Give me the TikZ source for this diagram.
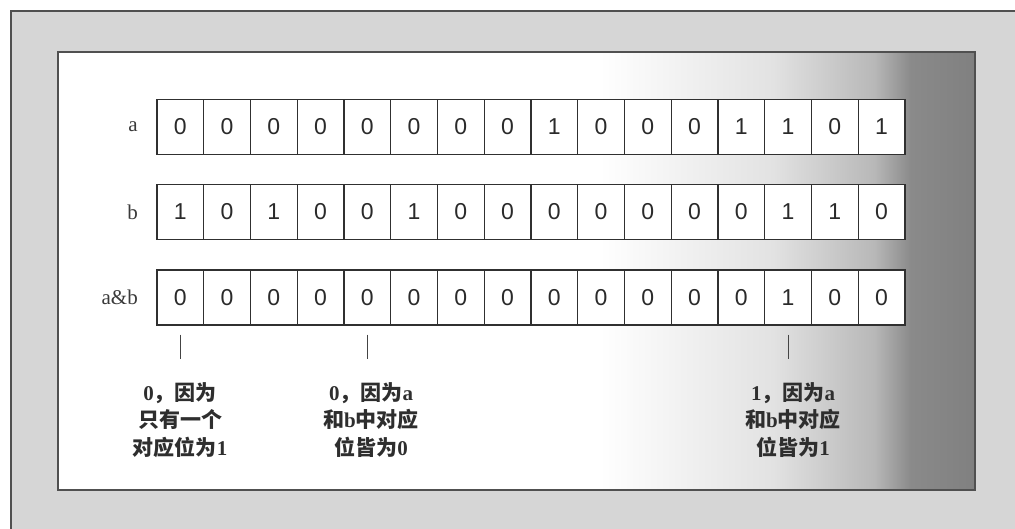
\documentclass[tikz,border=0pt]{standalone}
\usepackage{fontspec}
\setmainfont{Liberation Serif}
\newfontfamily\cjk{Noto Sans CJK SC}
\newfontfamily\digitfont{Liberation Sans}
\definecolor{outerbg}{HTML}{D6D6D6}
\definecolor{framecol}{HTML}{505050}
\definecolor{cellline}{HTML}{303030}
\definecolor{digit}{HTML}{2A2A2A}
\definecolor{labgray}{HTML}{3A3A3A}
\definecolor{notegray}{HTML}{2E2E2E}
\definecolor{tickgray}{HTML}{444444}
\definecolor{shA}{HTML}{FFFFFF}
\definecolor{shB}{HTML}{E2E2E2}
\definecolor{shC}{HTML}{B8B8B8}
\definecolor{shD}{HTML}{8A8A8A}
\definecolor{shE}{HTML}{808080}
\pgfdeclarehorizontalshading{panelshade}{100bp}{color(0bp)=(shA); color(54.5bp)=(shA); color(64bp)=(shB); color(69.5bp)=(shC); color(71.5bp)=(shD); color(75bp)=(shE); color(100bp)=(shE)}
\newcommand\latn[1]{{\rmfamily #1}}
\begin{document}
\begin{tikzpicture}[x=1pt,y=-1pt,
  cell/.style={draw=cellline, line width=1.3pt, fill=white, minimum width=46.75pt, minimum height=55pt, inner sep=0pt, font=\digitfont\fontsize{23}{23}\selectfont, text=digit},
  rowlab/.style={anchor=east, inner sep=0pt, font=\fontsize{21}{21}\selectfont, text=labgray},
  note/.style={align=center, inner sep=0pt, font=\cjk\bfseries\fontsize{21}{27.5}\selectfont, text=notegray},
  tickline/.style={draw=tickgray, line width=1.2pt}]
\useasboundingbox (0,0) rectangle (1015,529);
\fill[white] (0,0) rectangle (1015,529);
\fill[outerbg] (11,11) rectangle (1015,529);
\draw[framecol, line width=2pt] (11,529) -- (11,11) -- (1015,11);
\shade[shading=panelshade] (58,52) rectangle (975,490);
\draw[framecol, line width=2pt] (58,52) rectangle (975,490);
% rows
\foreach \v [count=\i] in {0,0,0,0,0,0,0,0,1,0,0,0,1,1,0,1}
  \node[cell] (a\i) at ({157+46.75*(\i-0.5)},127) {\v};
\foreach \v [count=\i] in {1,0,1,0,0,1,0,0,0,0,0,0,0,1,1,0}
  \node[cell] (b\i) at ({157+46.75*(\i-0.5)},212) {\v};
\foreach \v [count=\i] in {0,0,0,0,0,0,0,0,0,0,0,0,0,1,0,0}
  \node[cell] (c\i) at ({157+46.75*(\i-0.5)},297.5) {\v};
% row labels
\node[rowlab] (la) at (138,127) {a};
\node[rowlab] (lb) at (138,212) {b};
\node[rowlab] (lc) at (138,297.5) {a\&b};
% notes
\node[note] (n1) at (180,420) {\latn{0}，因为\\只有一个\\对应位为\latn{1}};
\node[note] (n2) at (371,420) {\latn{0}，因为\latn{a}\\和\latn{b}中对应\\位皆为\latn{0}};
\node[note] (n3) at (793,420) {\latn{1}，因为\latn{a}\\和\latn{b}中对应\\位皆为\latn{1}};
% ticks
\draw[tickline] ([yshift=-9pt]c1.south) -- ([yshift=-33pt]c1.south);
\draw[tickline] ([yshift=-9pt]c5.south) -- ([yshift=-33pt]c5.south);
\draw[tickline] ([yshift=-9pt]c14.south) -- ([yshift=-33pt]c14.south);
\end{tikzpicture}
\end{document}
